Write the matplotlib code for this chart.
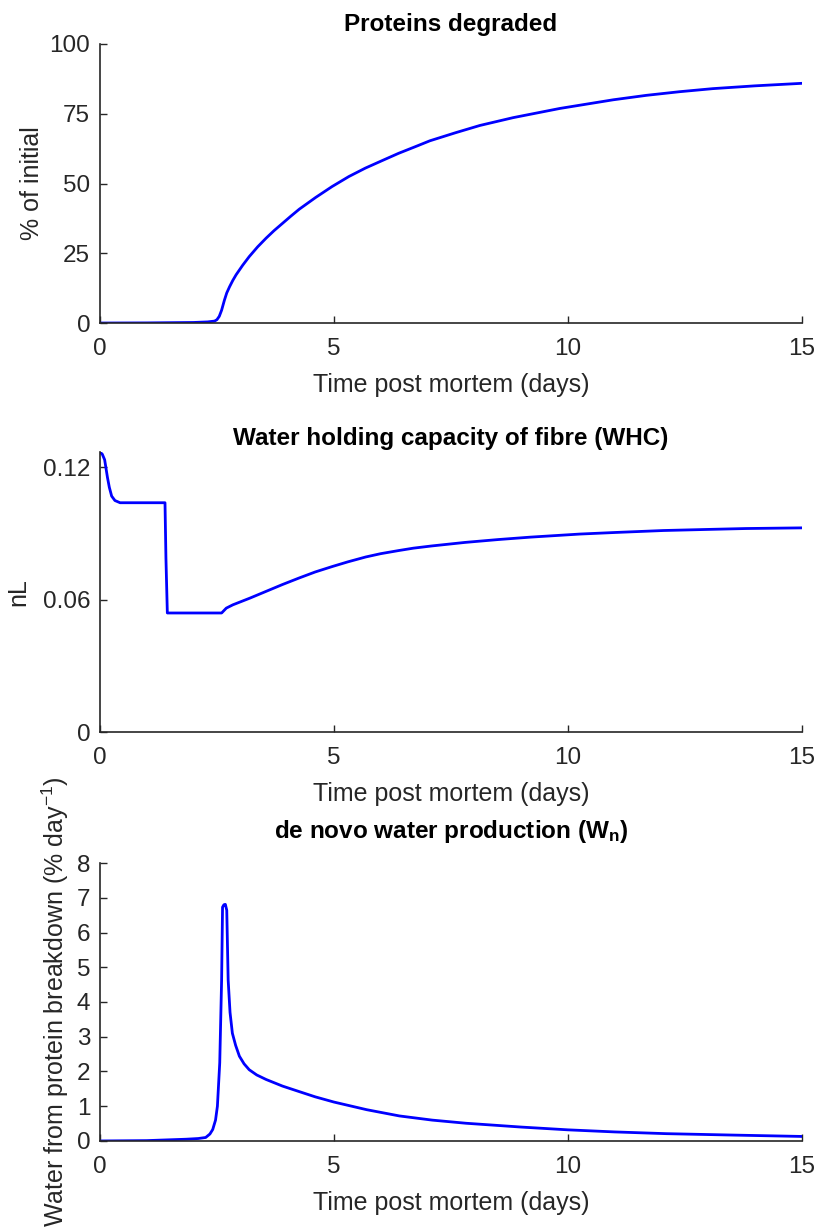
# Protein degradation, WHC and de novo water production over time post mortem
import matplotlib
matplotlib.use('Agg')
import matplotlib.pyplot as plt

plt.rcParams['font.family'] = ['Liberation Sans', 'DejaVu Sans']
plt.rcParams['mathtext.fontset'] = 'custom'
plt.rcParams['mathtext.rm'] = 'Liberation Sans'
plt.rcParams['mathtext.bf'] = 'Liberation Sans:bold'
plt.rcParams['mathtext.default'] = 'regular'

# --- data ---
t_prot = [0, 1, 2, 2.3, 2.45, 2.5, 2.55, 2.6, 2.66, 2.71, 2.77, 2.84, 2.91, 3.05,
          3.19, 3.37, 3.55, 3.72, 3.90, 4.08, 4.26, 4.61, 4.96, 5.32, 5.67, 6.03,
          6.38, 6.77, 7.05, 7.6, 8.12, 8.83, 9.83, 10.97, 11.68, 12.39, 13.1,
          14.0, 15]
prot = [0, 0.05, 0.2, 0.4, 0.7, 1.2, 2.4, 4.6, 8.2, 10.8, 13.0, 15.3, 17.3, 20.7,
        23.8, 27.3, 30.4, 33.1, 35.7, 38.3, 40.8, 45.0, 48.9, 52.5, 55.5, 58.2,
        60.8, 63.4, 65.3, 68.2, 70.8, 73.6, 76.9, 80.0, 81.6, 82.9, 84.0,
        85.0, 85.9]

t_whc = [0, 0.05, 0.1, 0.16, 0.2, 0.25, 0.32, 0.43, 0.6, 1.0, 1.39, 1.41, 1.44,
         2.0, 2.6, 2.7, 2.84, 3.2, 3.55, 3.9, 4.26, 4.6, 4.97, 5.3, 5.68, 6.0,
         6.38, 6.7, 7.09, 7.8, 8.51, 9.2, 10.26, 11.0, 12.04, 13.0, 13.8, 15.0]
whc = [0.127, 0.126, 0.1235, 0.1155, 0.111, 0.107, 0.105, 0.104, 0.104, 0.104,
       0.104, 0.079, 0.054, 0.054, 0.054, 0.0562, 0.0577, 0.0607, 0.0638, 0.0669,
       0.0699, 0.0726, 0.0751, 0.0772, 0.0794, 0.0809, 0.0823, 0.0834, 0.0844,
       0.0860, 0.0873, 0.0884, 0.0898, 0.0905, 0.0914, 0.0919, 0.0923, 0.0926]

t_wn = [0, 1, 1.84, 2.1, 2.26, 2.35, 2.41, 2.47, 2.51, 2.56, 2.6, 2.62, 2.65,
        2.68, 2.71, 2.74, 2.78, 2.83, 2.9, 2.98, 3.08, 3.19, 3.35, 3.55, 3.9,
        4.26, 4.6, 5.0, 5.7, 6.4, 7.1, 7.82, 9.0, 10.0, 11.0, 12.1, 13.5, 15]
wn = [0, 0.01, 0.05, 0.07, 0.1, 0.2, 0.33, 0.6, 1.0, 2.25, 4.63, 6.73, 6.8,
      6.81, 6.64, 4.63, 3.7, 3.1, 2.75, 2.44, 2.22, 2.05, 1.9, 1.77, 1.58,
      1.42, 1.27, 1.12, 0.9, 0.72, 0.6, 0.51, 0.4, 0.32, 0.26, 0.21, 0.17, 0.13]

x_ticks = [0, 5, 10, 15]
grey = '#262626'
blue = '#0000ff'

fig = plt.figure(figsize=(8.18, 12.32), dpi=100)
ax1 = fig.add_axes([0.1222, 0.7378, 0.858, 0.2265])
ax2 = fig.add_axes([0.1222, 0.4058, 0.858, 0.2273])
ax3 = fig.add_axes([0.1222, 0.0739, 0.858, 0.2256])

ax1.plot(t_prot, prot, color=blue, lw=2.0)
ax1.set_ylim(0, 100)
ax1.set_yticks([0, 25, 50, 75, 100])
ax1.set_ylabel('% of initial', labelpad=4)
ax1.set_title('Proteins degraded', pad=9)

ax2.plot(t_whc, whc, color=blue, lw=2.0)
ax2.set_ylim(0, 0.127)
ax2.set_yticks([0, 0.06, 0.12])
ax2.set_yticklabels(['0', '0.06', '0.12'])
ax2.set_ylabel('nL', labelpad=9)
ax2.set_title('Water holding capacity of fibre (WHC)', pad=5)

ax3.plot(t_wn, wn, color=blue, lw=2.0)
ax3.set_ylim(0, 8)
ax3.set_yticks(range(0, 9))
ax3.set_ylabel('Water from protein breakdown (% day$^{-1}$)', labelpad=4)
ax3.set_title(r'de novo water production ($\mathbf{W_n}$)', pad=18)

for ax in (ax1, ax2, ax3):
    ax.set_xlim(0, 15)
    ax.set_xticks(x_ticks)
    ax.set_xlabel('Time post mortem (days)', fontsize=18, color=grey, labelpad=9)
    ax.yaxis.label.set_fontsize(18)
    ax.yaxis.label.set_color(grey)
    ax.title.set_fontsize(17.5)
    ax.title.set_fontweight('bold')
    ax.title.set_color('black')
    ax.tick_params(direction='in', length=5, width=1, colors=grey, labelsize=17.5)
    ax.tick_params(axis='x', pad=11)
    ax.tick_params(axis='y', pad=7)
    ax.spines['top'].set_visible(False)
    ax.spines['right'].set_visible(False)
    for s in ('left', 'bottom'):
        ax.spines[s].set_color(grey)
        ax.spines[s].set_linewidth(1.2)

fig.savefig('out.png', dpi=100)
